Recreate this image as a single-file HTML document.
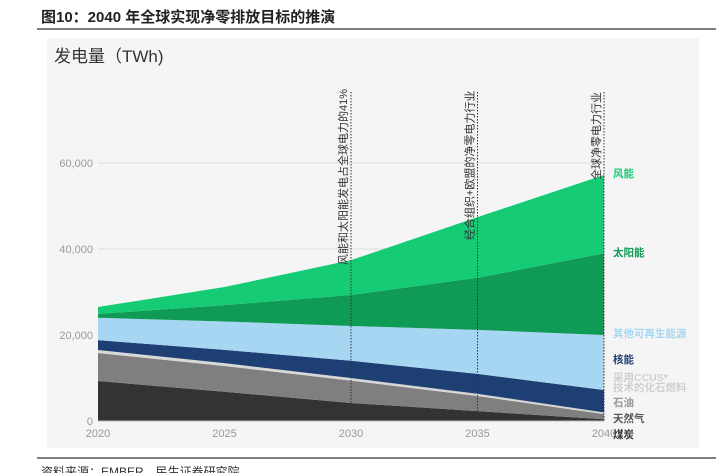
<!DOCTYPE html>
<html><head><meta charset="utf-8"><style>
body{margin:0;width:716px;height:473px;background:#fff;overflow:hidden;font-family:"Liberation Sans","Noto Sans CJK SC",sans-serif}
</style></head><body>
<svg width="716" height="473" style="position:absolute;left:0;top:0">
<text x="41" y="22" font-size="15" font-weight="bold" fill="#222" font-family="Liberation Sans,Noto Sans CJK SC,sans-serif">图10：2040 年全球实现净零排放目标的推演</text>
<line x1="37" y1="29" x2="716" y2="29" stroke="#555" stroke-width="1.5"/>
<rect x="47" y="38" width="652" height="410" fill="#f5f5f5"/>
<text x="54" y="62" font-size="17" fill="#333" font-family="Liberation Sans,Noto Sans CJK SC,sans-serif">发电量（TWh)</text>
<g id="grid"></g><g id="areas"></g><g id="vlines"></g><g id="labels"></g>
<line x1="37" y1="458" x2="716" y2="458" stroke="#555" stroke-width="1.5"/>
<text x="41" y="476" font-size="12" fill="#333" font-family="Liberation Sans,Noto Sans CJK SC,sans-serif">资料来源：EMBER，民生证券研究院</text>
</svg>
<script>
const years=[2020,2025,2030,2035,2040];
const coal=[9300,6800,4200,2300,400];
const gas=[6500,6000,5200,3500,1200];
const oil=[700,600,500,400,300];
const ccus=[0,50,100,150,100];
const nuclear=[2300,3100,4000,4600,5200];
const otherRen=[5200,6600,8100,10250,12800];
const solar=[900,3800,7200,12100,19000];
const wind=[1600,4200,8100,14100,18200];
const yTicks=[0,20000,40000,60000];
const xTicks=[2020,2025,2030,2035,2040];
const markers=[2030,2035,2040];
const markerText=["风能和太阳能发电占全球电力的41%","经合组织+欧盟的净零电力行业","全球净零电力行业"];
const NS="http://www.w3.org/2000/svg";
const X=y=>98+(y-2020)*25.3;
const Y=v=>421-v*0.0043;
function mk(t,a,p){const e=document.createElementNS(NS,t);for(const k in a)e.setAttribute(k,a[k]);p.appendChild(e);return e;}
const G=document.getElementById('grid'),A=document.getElementById('areas'),V=document.getElementById('vlines'),L=document.getElementById('labels');
const F="Liberation Sans,Noto Sans CJK SC,sans-serif";
yTicks.forEach(v=>{
 if(v>0){const l=mk('line',{x1:98,x2:604,y1:Y(v),y2:Y(v),stroke:'#ddd','stroke-width':1},G);
 
 }
 const t=mk('text',{x:93,y:Y(v)+4,'text-anchor':'end','font-size':11,fill:'#999','font-family':F},G);t.textContent=v.toLocaleString('en-US');
 
 
});
const series=[[coal,'#333333','coal'],[gas,'#7f7f7f','gas'],[oil,'#d8d8d8','oil'],[ccus,'#bdbdbd','ccus'],[nuclear,'#1e3f73','nuclear'],[otherRen,'#a6d6f2','other-renewables'],[solar,'#0f9a55','solar'],[wind,'#15cc75','wind']];
let base=years.map(()=>0);
series.forEach(([d,c,n])=>{
 const top=base.map((b,i)=>b+d[i]);
 let p='M'+years.map((y,i)=>X(y)+','+Y(top[i])).join(' L');
 p+=' L'+years.slice().reverse().map((y,j)=>{const i=years.length-1-j;return X(y)+','+Y(base[i]);}).join(' L')+'Z';
 const e=mk('path',{d:p,fill:c},A);
 
 
 base=top;
});
mk('line',{x1:98,x2:604,y1:421,y2:421,stroke:'#bbb'},A);
xTicks.forEach(y=>{const t=mk('text',{x:X(y),y:437,'text-anchor':'middle','font-size':11,fill:'#999','font-family':F},L);t.textContent=y;
 
 });
markers.forEach((y,i)=>{
 const l=mk('line',{x1:X(y),x2:X(y),y1:92,y2:421,stroke:'#333','stroke-width':1,'stroke-dasharray':'1.5,1.5'},V);
 
 
 const t=mk('text',{x:0,y:0,'font-size':11,fill:'#333','font-family':F,transform:`translate(${X(y)-4},${i==0?265:i==1?240:180}) rotate(-90)`},V);
 t.textContent=markerText[i];
 
 
});
const lab=[["风能",177,'#15cc75'],["太阳能",256,'#0f9a55'],["其他可再生能源",337,'#a6d6f2'],["核能",363,'#1e3f73'],["采用CCUS*",381,'#d0d0d0'],["技术的化石燃料",391,'#d0d0d0'],["石油",406,'#999'],["天然气",422,'#555'],["煤炭",438,'#333']];
lab.forEach(([s,y,c])=>{const t=mk('text',{x:613,y:y,'font-size':10.5,'font-weight':'bold',fill:c,'font-family':F},L);t.textContent=s;
 
 });
</script>
</body></html>
